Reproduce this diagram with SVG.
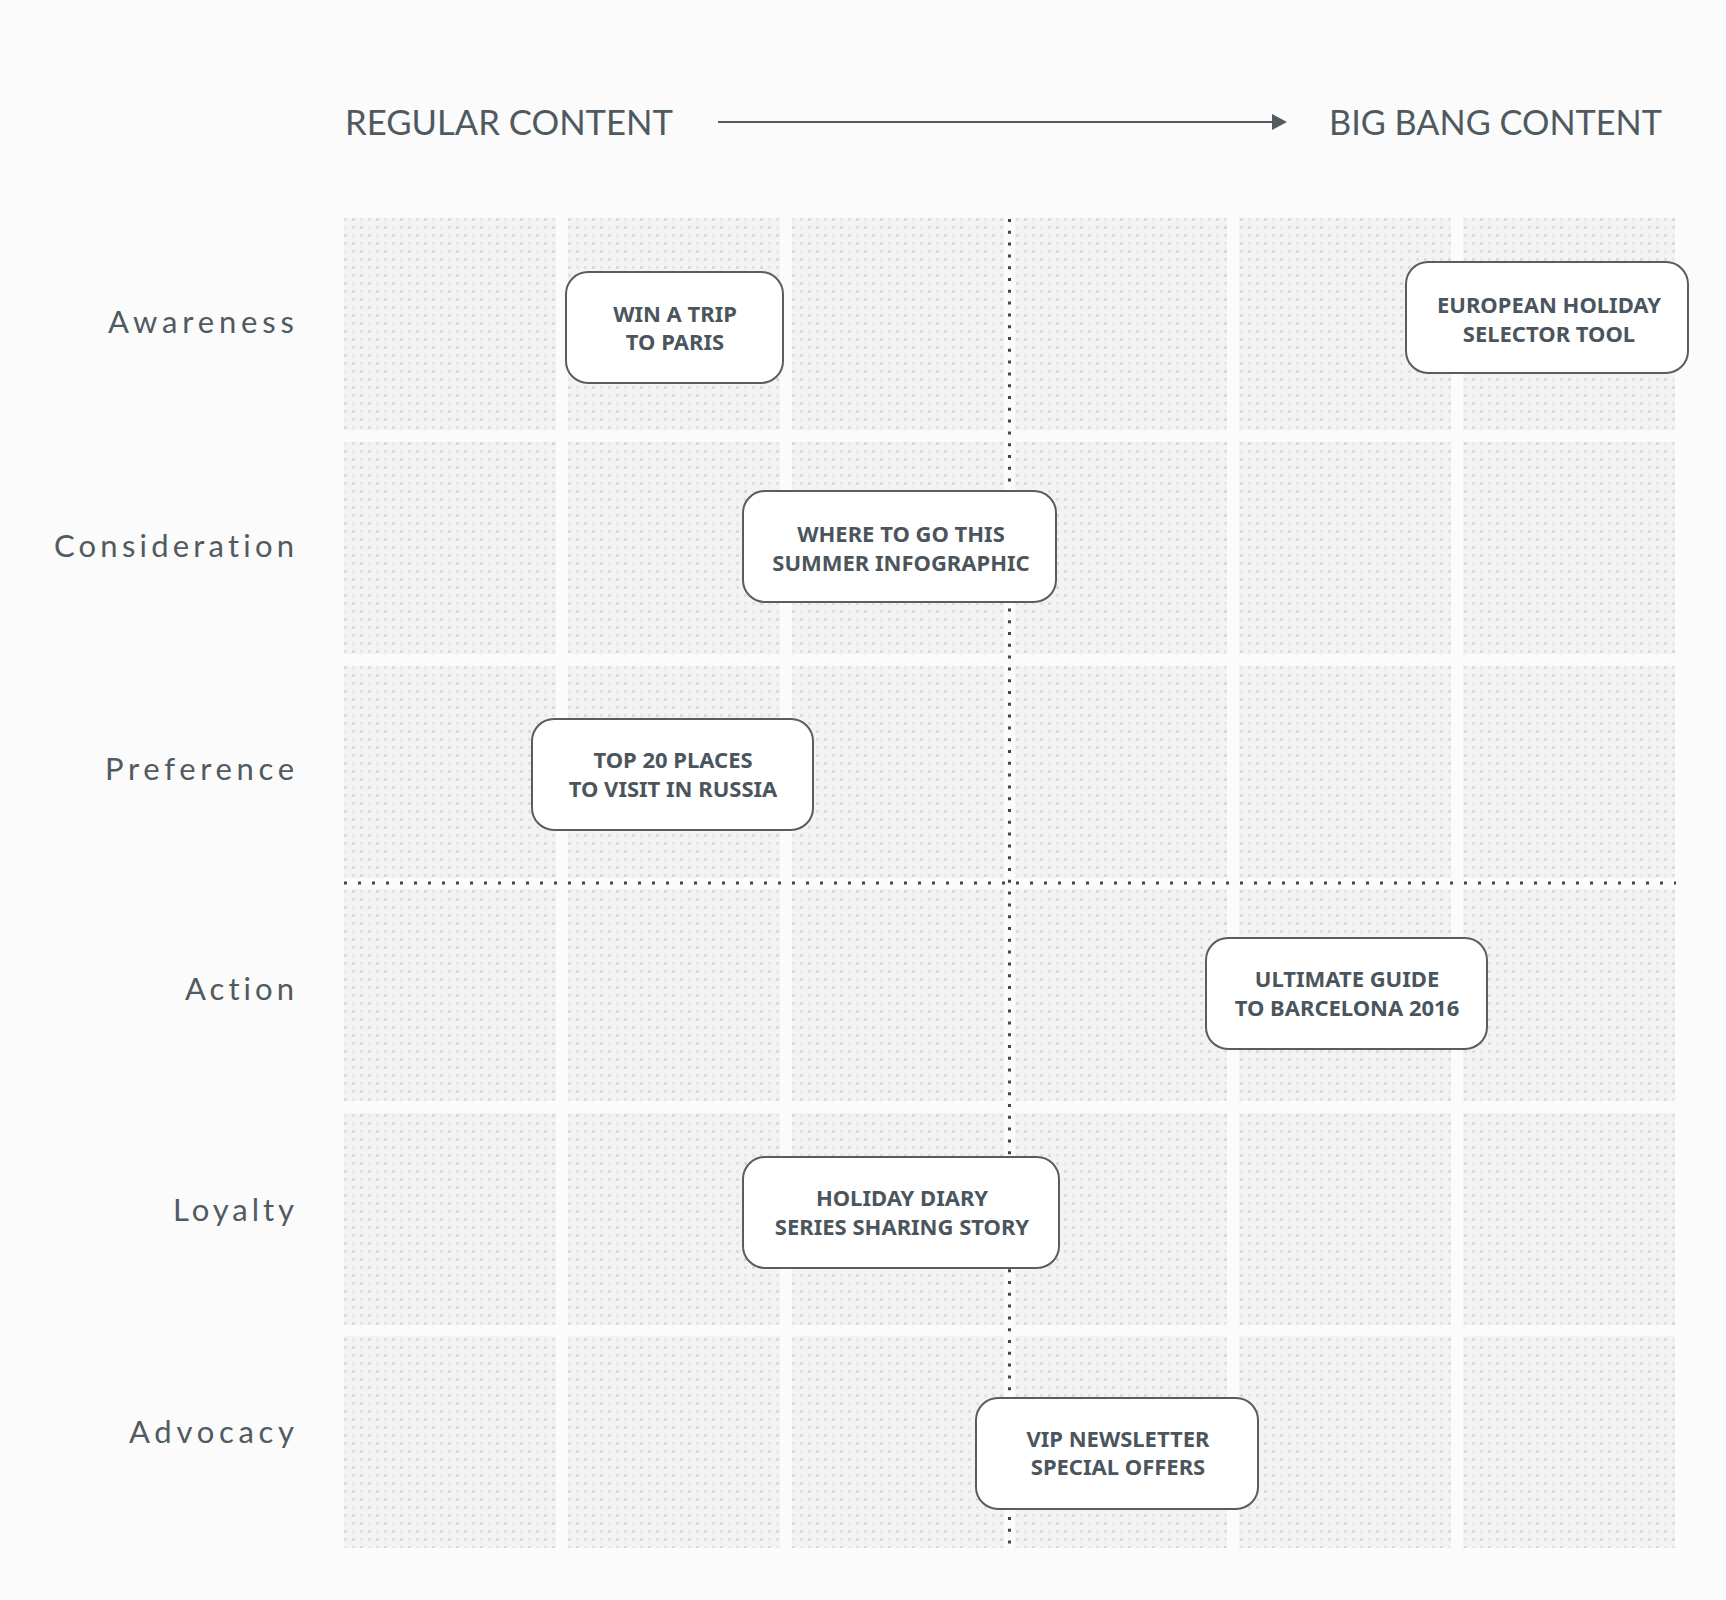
<svg xmlns="http://www.w3.org/2000/svg" width="1726" height="1600" viewBox="0 0 1726 1600">
<defs>
<pattern id="dots" patternUnits="userSpaceOnUse" x="344" y="218" width="24" height="24">
<rect width="24" height="24" fill="#f3f3f3"/>
<rect x="0" y="0" width="3" height="3" fill="#e2e2e2"/>
<rect x="8" y="0" width="3" height="3" fill="#dadada"/>
<rect x="16" y="0" width="3" height="3" fill="#e6e6e6"/>
<rect x="0" y="8" width="3" height="3" fill="#e8e8e8"/>
<rect x="8" y="8" width="3" height="3" fill="#e0e0e0"/>
<rect x="16" y="8" width="3" height="3" fill="#d8d8d8"/>
<rect x="0" y="16" width="3" height="3" fill="#dcdcdc"/>
<rect x="8" y="16" width="3" height="3" fill="#e7e7e7"/>
<rect x="16" y="16" width="3" height="3" fill="#e1e1e1"/>
</pattern>
<marker id="arr" markerWidth="15" markerHeight="16" refX="13" refY="8" orient="auto" markerUnits="userSpaceOnUse" viewBox="0 0 15 16">
<path d="M0,0 L15,8 L0,16 Z" fill="#535b61"/>
</marker>
<style>
.cell{fill:url(#dots)}
.hdr{font-family:Lato,"Liberation Sans",sans-serif;font-size:34px;fill:#4f5960;font-weight:400}
.lbl{font-family:Lato,"Liberation Sans",sans-serif;font-size:31px;fill:#505a61;font-weight:400;font-variant-ligatures:none}
.box{fill:#ffffff;stroke:#585d61;stroke-width:2}
.nt{font-family:"Noto Sans","Liberation Sans",sans-serif;font-size:22px;font-weight:700;fill:#4b555d;text-anchor:middle}
</style>
</defs>
<rect width="1726" height="1600" fill="#fbfbfb"/>

<g id="header">
<text class="hdr" x="345" y="135" textLength="328" lengthAdjust="spacingAndGlyphs">REGULAR CONTENT</text>
<text class="hdr" x="1329" y="135" textLength="333" lengthAdjust="spacingAndGlyphs">BIG BANG CONTENT</text>
</g>

<g id="grid">
<rect class="cell" x="344" y="218" width="212" height="212"/>
<rect class="cell" x="568" y="218" width="212" height="212"/>
<rect class="cell" x="792" y="218" width="212" height="212"/>
<rect class="cell" x="1015" y="218" width="212" height="212"/>
<rect class="cell" x="1239" y="218" width="212" height="212"/>
<rect class="cell" x="1463" y="218" width="212" height="212"/>
<rect class="cell" x="344" y="442" width="212" height="212"/>
<rect class="cell" x="568" y="442" width="212" height="212"/>
<rect class="cell" x="792" y="442" width="212" height="212"/>
<rect class="cell" x="1015" y="442" width="212" height="212"/>
<rect class="cell" x="1239" y="442" width="212" height="212"/>
<rect class="cell" x="1463" y="442" width="212" height="212"/>
<rect class="cell" x="344" y="666" width="212" height="212"/>
<rect class="cell" x="568" y="666" width="212" height="212"/>
<rect class="cell" x="792" y="666" width="212" height="212"/>
<rect class="cell" x="1015" y="666" width="212" height="212"/>
<rect class="cell" x="1239" y="666" width="212" height="212"/>
<rect class="cell" x="1463" y="666" width="212" height="212"/>
<rect class="cell" x="344" y="889" width="212" height="212"/>
<rect class="cell" x="568" y="889" width="212" height="212"/>
<rect class="cell" x="792" y="889" width="212" height="212"/>
<rect class="cell" x="1015" y="889" width="212" height="212"/>
<rect class="cell" x="1239" y="889" width="212" height="212"/>
<rect class="cell" x="1463" y="889" width="212" height="212"/>
<rect class="cell" x="344" y="1113" width="212" height="212"/>
<rect class="cell" x="568" y="1113" width="212" height="212"/>
<rect class="cell" x="792" y="1113" width="212" height="212"/>
<rect class="cell" x="1015" y="1113" width="212" height="212"/>
<rect class="cell" x="1239" y="1113" width="212" height="212"/>
<rect class="cell" x="1463" y="1113" width="212" height="212"/>
<rect class="cell" x="344" y="1336" width="212" height="212"/>
<rect class="cell" x="568" y="1336" width="212" height="212"/>
<rect class="cell" x="792" y="1336" width="212" height="212"/>
<rect class="cell" x="1015" y="1336" width="212" height="212"/>
<rect class="cell" x="1239" y="1336" width="212" height="212"/>
<rect class="cell" x="1463" y="1336" width="212" height="212"/>
</g>

<g id="labels">
<text class="lbl" x="108" y="333" textLength="186" lengthAdjust="spacing">Awareness</text>
<text class="lbl" x="54" y="557" textLength="240" lengthAdjust="spacing">Consideration</text>
<text class="lbl" x="105" y="780" textLength="189" lengthAdjust="spacing">Preference</text>
<text class="lbl" x="185" y="1000" textLength="109" lengthAdjust="spacing">Action</text>
<text class="lbl" x="173" y="1221" textLength="121" lengthAdjust="spacing">Loyalty</text>
<text class="lbl" x="129" y="1443" textLength="165" lengthAdjust="spacing">Advocacy</text>
</g>

<g id="connectors">
<line x1="718" y1="122" x2="1285" y2="122" stroke="#535b61" stroke-width="2" marker-end="url(#arr)"/>
<line x1="1009.5" y1="219" x2="1009.5" y2="1548" stroke="#3f474d" stroke-width="3" stroke-dasharray="3 8.8"/>
<line x1="344" y1="883" x2="1676" y2="883" stroke="#3f474d" stroke-width="3" stroke-dasharray="3 11"/>
</g>

<g id="node-win-trip">
<rect class="box" x="566" y="272" width="217" height="111" rx="22"/>
<text class="nt" x="675" y="322">WIN A TRIP</text>
<text class="nt" x="675" y="350">TO PARIS</text>
</g>
<g id="node-european">
<rect class="box" x="1406" y="262" width="282" height="111" rx="22"/>
<text class="nt" x="1549" y="313">EUROPEAN HOLIDAY</text>
<text class="nt" x="1549" y="342">SELECTOR TOOL</text>
</g>
<g id="node-where">
<rect class="box" x="743" y="491" width="313" height="111" rx="22"/>
<text class="nt" x="901" y="542">WHERE TO GO THIS</text>
<text class="nt" x="901" y="571">SUMMER INFOGRAPHIC</text>
</g>
<g id="node-top20">
<rect class="box" x="532" y="719" width="281" height="111" rx="22"/>
<text class="nt" x="673" y="768">TOP 20 PLACES</text>
<text class="nt" x="673" y="797">TO VISIT IN RUSSIA</text>
</g>
<g id="node-ultimate">
<rect class="box" x="1206" y="938" width="281" height="111" rx="22"/>
<text class="nt" x="1347" y="987">ULTIMATE GUIDE</text>
<text class="nt" x="1347" y="1016">TO BARCELONA 2016</text>
</g>
<g id="node-holiday">
<rect class="box" x="743" y="1157" width="316" height="111" rx="22"/>
<text class="nt" x="902" y="1206">HOLIDAY DIARY</text>
<text class="nt" x="902" y="1235">SERIES SHARING STORY</text>
</g>
<g id="node-vip">
<rect class="box" x="976" y="1398" width="282" height="111" rx="22"/>
<text class="nt" x="1118" y="1447">VIP NEWSLETTER</text>
<text class="nt" x="1118" y="1475">SPECIAL OFFERS</text>
</g>
</svg>
